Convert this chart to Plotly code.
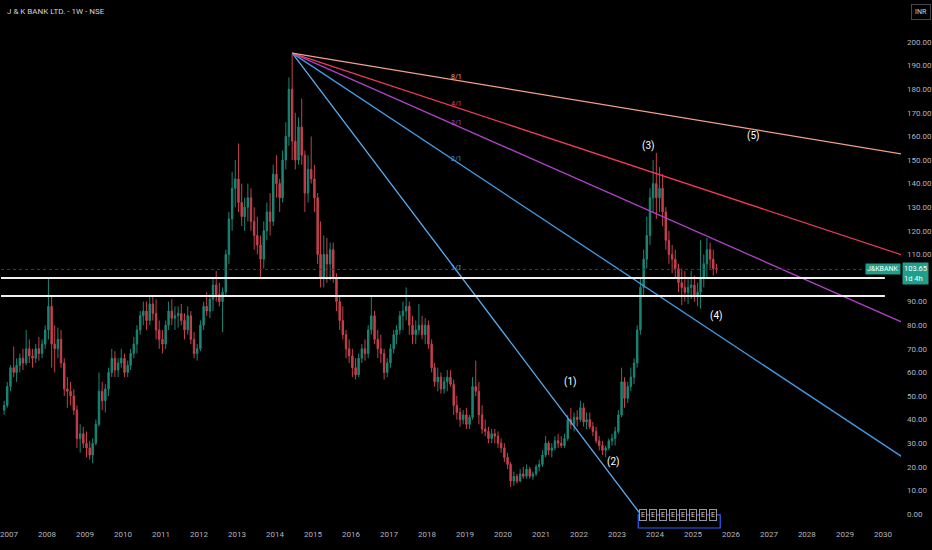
import pandas as pd
import plotly.graph_objects as go

# monthly candles, Nov 2006 -> Aug 2025
opens = [
    44, 46,
    54, 62, 60, 63, 66, 64, 70, 67, 66, 70, 68, 72,
    78, 88, 72, 70, 74, 64, 53, 52, 50, 44, 32, 34,
    30, 28, 25, 30, 38, 52, 48, 53, 60, 66, 61, 64,
    66, 60, 63, 68, 72, 78, 84, 86, 82, 89, 85, 78,
    74, 72, 80, 86, 83, 84, 85, 82, 78, 84, 74, 68,
    70, 80, 88, 86, 91, 97, 93, 90, 94, 110, 125, 138,
    142, 132, 126, 130, 134, 124, 118, 114, 108, 120, 128, 124,
    144, 140, 134, 150, 160, 180, 158, 150, 164, 152, 136, 146,
    142, 134, 110, 100, 110, 106, 112, 100, 90, 82, 76, 70,
    67, 62, 59, 66, 70, 68, 78, 84, 74, 70, 68, 60,
    64, 70, 76, 78, 84, 86, 88, 80, 76, 78, 80, 76,
    80, 72, 62, 56, 58, 53, 56, 58, 55, 46, 43, 40,
    42, 38, 41, 54, 52, 42, 36, 35, 32, 34, 33, 30,
    28, 24, 21, 14, 16, 14, 17, 16, 19, 16, 17, 20,
    21, 25, 30, 27, 28, 31, 30, 29, 32, 40, 38, 41,
    40, 45, 39, 40, 37, 35, 31, 29, 27, 28, 31, 32,
    35, 42, 56, 49, 54, 58, 64, 78, 96, 108, 118, 134,
    140, 134, 138, 128, 116, 110, 108, 104, 98, 96, 94, 96,
    97, 92, 94, 100, 106, 112, 108, 104,
]
highs = [
    48, 56,
    63, 71, 66, 68, 70, 78, 74, 70, 72, 75, 74, 80,
    100, 92, 80, 79, 78, 66, 58, 56, 53, 46, 38, 37,
    35, 31, 32, 40, 60, 56, 55, 62, 70, 69, 66, 70,
    68, 65, 70, 75, 80, 86, 90, 90, 92, 92, 91, 82,
    78, 82, 90, 91, 88, 88, 89, 85, 88, 86, 77, 72,
    82, 90, 94, 93, 100, 103, 98, 96, 112, 128, 145, 150,
    157, 140, 134, 140, 138, 130, 126, 118, 124, 132, 136, 148,
    152, 142, 154, 166, 185, 195, 170, 168, 176, 154, 152, 160,
    148, 136, 124, 118, 117, 115, 115, 102, 92, 88, 78, 74,
    70, 66, 68, 72, 74, 80, 92, 86, 78, 76, 70, 66,
    72, 78, 80, 86, 90, 96, 90, 84, 82, 89, 84, 83,
    82, 74, 64, 62, 60, 58, 61, 61, 57, 50, 45, 44,
    45, 42, 58, 65, 56, 46, 40, 37, 36, 36, 35, 32,
    30, 26, 22, 18, 17, 19, 20, 21, 20, 18, 21, 23,
    27, 33, 31, 30, 33, 34, 33, 34, 42, 45, 43, 44,
    48, 47, 43, 43, 39, 37, 33, 31, 29, 32, 34, 37,
    44, 62, 58, 56, 62, 66, 80, 100, 112, 126, 138, 150,
    153, 147, 144, 130, 120, 114, 112, 106, 104, 103, 100, 103,
    101, 98, 116, 110, 117, 115, 112, 106,
]
lows = [
    42, 45,
    52, 58, 56, 60, 61, 63, 64, 62, 64, 65, 66, 70,
    74, 62, 60, 66, 62, 50, 45, 46, 42, 28, 26, 28,
    24, 23, 21.5, 29, 37, 44, 43, 50, 58, 58, 58, 62,
    58, 58, 61, 66, 68, 76, 80, 78, 80, 82, 74, 70,
    68, 70, 78, 80, 78, 79, 80, 74, 76, 72, 66, 65,
    69, 78, 84, 83, 86, 90, 88, 77, 92, 106, 120, 130,
    128, 122, 120, 124, 120, 112, 110, 100, 104, 116, 118, 122,
    134, 128, 132, 146, 156, 150, 146, 148, 148, 128, 132, 140,
    128, 106, 96, 96, 98, 99, 98, 86, 78, 74, 66, 64,
    58, 57, 58, 64, 65, 66, 76, 72, 66, 64, 57, 58,
    62, 68, 72, 76, 78, 82, 76, 72, 72, 76, 74, 72,
    70, 60, 54, 52, 51, 51, 52, 54, 42, 40, 37, 38,
    36, 36, 40, 50, 38, 34, 33, 30, 30, 30, 28, 26,
    22, 19, 11.5, 12, 13, 13.5, 15, 15, 15, 14.5, 16, 18,
    20, 24, 25, 24, 27, 28, 28, 28, 31, 36, 35, 37,
    39, 37, 36, 36, 33, 30, 27, 25, 24, 27, 29, 29,
    34, 41, 45, 47, 52, 55, 62, 76, 92, 104, 114, 128,
    125, 128, 122, 112, 106, 102, 100, 94, 88.5, 90, 89, 91,
    90, 88, 87, 96, 100, 104, 101, 102,
]
closes = [
    46, 54,
    62, 60, 63, 66, 64, 70, 67, 66, 70, 68, 72, 78,
    88, 72, 70, 74, 64, 53, 52, 50, 44, 32, 34, 30,
    28, 25, 30, 38, 52, 48, 53, 60, 66, 61, 64, 66,
    60, 63, 68, 72, 78, 84, 86, 82, 89, 85, 78, 74,
    72, 80, 86, 83, 84, 85, 82, 78, 84, 74, 68, 70,
    80, 88, 86, 91, 97, 93, 90, 94, 110, 125, 138, 142,
    132, 126, 130, 134, 124, 118, 114, 108, 120, 128, 124, 144,
    140, 134, 150, 160, 180, 158, 150, 164, 152, 136, 146, 142,
    134, 110, 100, 110, 106, 112, 100, 90, 82, 76, 70, 67,
    62, 59, 66, 70, 68, 78, 84, 74, 70, 68, 60, 64,
    70, 76, 78, 84, 86, 88, 80, 76, 78, 80, 76, 80,
    72, 62, 56, 58, 53, 56, 58, 55, 46, 43, 40, 42,
    38, 41, 54, 52, 42, 36, 35, 32, 34, 33, 30, 28,
    24, 21, 14, 16, 14, 17, 16, 19, 16, 17, 20, 21,
    25, 30, 27, 28, 31, 30, 29, 32, 40, 38, 41, 40,
    45, 39, 40, 37, 35, 31, 29, 27, 28, 31, 32, 35,
    42, 56, 49, 54, 58, 64, 78, 96, 108, 118, 134, 140,
    134, 138, 128, 116, 110, 108, 104, 98, 96, 94, 96, 97,
    92, 94, 100, 106, 112, 108, 104, 103.65,
]
dates = pd.date_range("2006-11-01", periods=len(closes), freq="MS") + pd.Timedelta(days=14)

last_price = 103.65

# right axis labels (100 sits under the last-price tag)
price_ticks = [0, 10, 20, 30, 40, 50, 60, 70, 80, 90,
               110, 120, 130, 140, 150, 160, 170, 180, 190, 200]

# gann fan drawn from the 2014 top
fan_apex_date = pd.Timestamp("2014-06-16")
fan_apex_price = 195.3
fan_unit_end = pd.Timestamp("2023-08-14")   # where the 1/1 line reaches zero
fan_ratios = [1, 2, 3, 4, 8]
fan_names = ["1/1", "2/1", "3/1", "4/1", "8/1"]
fan_colors = ["#5aaef2", "#3f9be8", "#b040c8", "#ee3a5c", "#f2a08a"]
fan_label_date = pd.Timestamp("2018-10-12")

# horizontal support lines
support_levels = [100.0, 92.4]

# elliott wave labels
wave_texts = ["(1)", "(2)", "(3)", "(4)", "(5)"]
wave_dates = ["2021-10-15", "2022-12-01", "2023-10-30", "2025-08-20", "2026-08-10"]
wave_prices = [56, 22, 156, 84, 160]

# earnings markers
earn_dates = ["2023-09-05", "2023-12-10", "2024-03-20", "2024-06-25",
              "2024-10-01", "2025-01-05", "2025-04-10", "2025-07-15"]

x_start = pd.Timestamp("2006-10-16")
x_end = pd.Timestamp("2030-06-24")
font = "Roboto"
text_col = "#b2b5be"

fig = go.Figure()

fig.add_trace(go.Candlestick(
    x=dates, open=opens, high=highs, low=lows, close=closes,
    increasing=dict(line=dict(color="#1f9e89", width=1), fillcolor="#1f9e89"),
    decreasing=dict(line=dict(color="#e84c5a", width=1), fillcolor="#e84c5a"),
    whiskerwidth=0, opacity=0.85, hoverinfo="skip", showlegend=False,
))

unit_days = (fan_unit_end - fan_apex_date).days
ray_end = pd.Timestamp("2031-06-01")
for ratio, name, col in zip(fan_ratios, fan_names, fan_colors):
    slope = fan_apex_price / unit_days / ratio
    end_price = fan_apex_price - slope * (ray_end - fan_apex_date).days
    fig.add_trace(go.Scatter(
        x=[fan_apex_date, ray_end], y=[fan_apex_price, end_price],
        mode="lines", line=dict(color=col, width=1.3),
        hoverinfo="skip", showlegend=False,
    ))
    lab_price = fan_apex_price - slope * (fan_label_date - fan_apex_date).days
    fig.add_annotation(x=fan_label_date, y=lab_price, text=name, showarrow=False,
                       yshift=3, font=dict(family=font, size=7, color=col))

# last price dotted line
fig.add_shape(type="line", xref="paper", x0=0, x1=1, yref="y", y0=last_price, y1=last_price,
              line=dict(color="#2b4a45", width=1, dash="dot"))

for lvl in support_levels:
    fig.add_shape(type="line", xref="x", x0=x_start, x1=pd.Timestamp("2030-01-20"),
                  yref="y", y0=lvl, y1=lvl, line=dict(color="#f0f0f0", width=2))

for t, d, p in zip(wave_texts, wave_dates, wave_prices):
    fig.add_annotation(x=d, y=p, text=t, showarrow=False,
                       font=dict(family=font, size=10, color="#ffffff"))

# earnings strip
fig.add_shape(type="rect", xref="x", x0=pd.Timestamp("2023-07-25"), x1=pd.Timestamp("2025-09-20"),
              yref="paper", y0=0.0, y1=0.025, line=dict(color="#2962ff", width=1.2),
              fillcolor="#000000", layer="above")
for d in earn_dates:
    fig.add_annotation(x=d, y=0.0125, yref="paper", text="E", showarrow=False,
                       font=dict(family=font, size=7, color="#d1d4dc"),
                       bordercolor="#9598a1", borderwidth=1, borderpad=1, bgcolor="#000000")

# header and price labels
fig.add_annotation(xref="paper", yref="paper", x=0.004, y=0.99, xanchor="left", yanchor="top",
                   text="J & K BANK LTD. - 1W - NSE", showarrow=False,
                   font=dict(family=font, size=8, color="#d1d4dc"))
fig.add_annotation(xref="paper", yref="paper", x=1.0115, y=0.993, xanchor="left", yanchor="top",
                   text="INR", showarrow=False, bgcolor="#000000", bordercolor="#434651",
                   borderwidth=1, borderpad=3, font=dict(family=font, size=7, color="#d1d4dc"))
fig.add_annotation(xref="paper", x=1.0, xanchor="right", y=last_price, yref="y", yanchor="middle",
                   text="J&KBANK", showarrow=False, bgcolor="#1f9e89", borderpad=1,
                   font=dict(family=font, size=7, color="#ffffff"))
fig.add_annotation(xref="paper", x=1.001, xanchor="left", y=last_price, yref="y", yanchor="top",
                   yshift=7, text="%.2f<br>1d 4h" % last_price, showarrow=False, align="left",
                   bgcolor="#1f9e89", borderpad=1,
                   font=dict(family=font, size=7.5, color="#ffffff"))

fig.update_layout(
    width=932, height=550,
    paper_bgcolor="#000000", plot_bgcolor="#000000",
    margin=dict(l=0, r=27, t=0, b=22),
    showlegend=False,
    font=dict(family=font, color=text_col, size=8),
    xaxis=dict(range=[x_start, x_end], rangeslider=dict(visible=False),
               showgrid=False, zeroline=False, showline=False,
               dtick="M12", tick0="2007-01-01", tickformat="%Y", ticks="",
               ticklabeloverflow="allow",
               tickfont=dict(family=font, size=8, color=text_col)),
    yaxis=dict(range=[-5.93, 217.8], side="right", showgrid=False, zeroline=False,
               showline=False, tickvals=price_ticks, tickformat=".2f",
               ticks="", ticklabelstandoff=5, ticklabeloverflow="allow",
               tickfont=dict(family=font, size=8, color=text_col)),
)

# drop the page margin so the chart sits flush in the window
fig.write_html("out.html", config={"displayModeBar": False},
               post_script="document.body.style.margin='0';document.body.style.overflow='hidden';")
